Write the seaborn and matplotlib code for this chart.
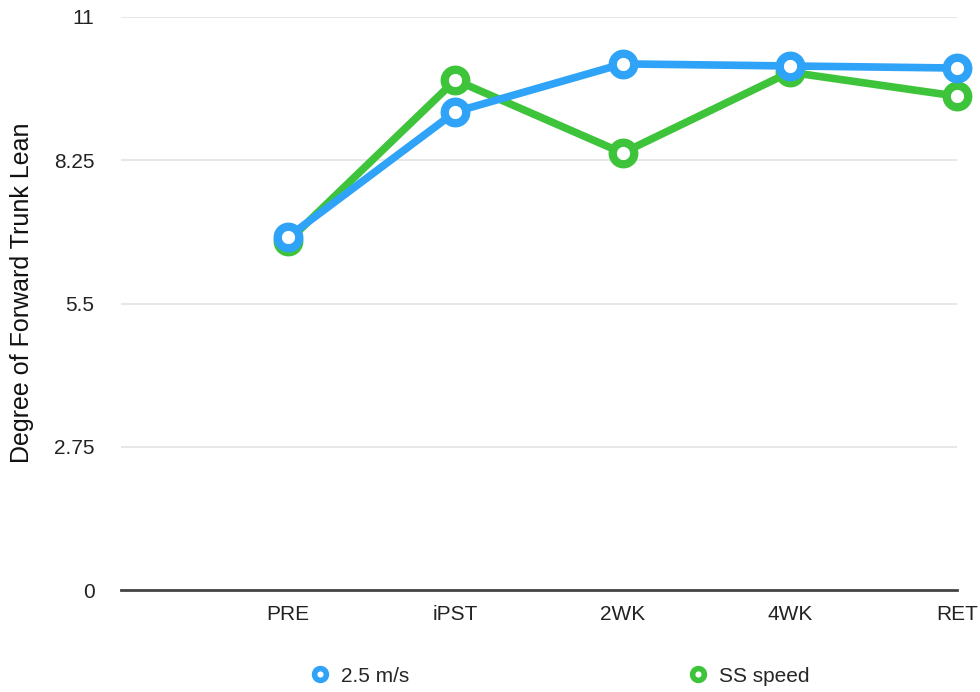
import matplotlib
matplotlib.use('Agg')
import matplotlib.pyplot as plt
from matplotlib.lines import Line2D
import seaborn as sns
import pandas as pd

# Values
phases = ['PRE', 'iPST', '2WK', '4WK', 'RET']
speed_25 = [6.78, 9.18, 10.10, 10.06, 10.02]
ss_speed = [6.70, 9.79, 8.39, 9.94, 9.48]
series_names = ['2.5 m/s', 'SS speed']
y_ticks = [0, 2.75, 5.5, 8.25, 11]
y_tick_labels = ['0', '2.75', '5.5', '8.25', '11']

BLUE = '#2ea3f7'
GREEN = '#3ec43b'

df = pd.DataFrame({
    'Phase': phases * 2,
    'Lean': speed_25 + ss_speed,
    'Series': [series_names[0]] * len(phases) + [series_names[1]] * len(phases),
})

sns.set_style('white')
plt.rcParams['font.family'] = ['Liberation Sans', 'DejaVu Sans']

fig = plt.figure(figsize=(9.8, 6.92), dpi=100)
ax = fig.add_axes([121 / 980, 102 / 692, 836 / 980, 573 / 692])

# green first so blue sits on top
for name, color, z in [(series_names[1], GREEN, 3), (series_names[0], BLUE, 4)]:
    sub = df[df['Series'] == name]
    sns.lineplot(data=sub, x='Phase', y='Lean', ax=ax, color=color, lw=5.5,
                 marker='o', markersize=15.5, markeredgewidth=6,
                 markerfacecolor='white', markeredgecolor=color,
                 sort=False, zorder=z, clip_on=False, legend=False)

ax.set_xlim(-1, 4)
ax.set_ylim(0, 11)
ax.set_yticks(y_ticks)
ax.set_yticklabels(y_tick_labels)
ax.yaxis.grid(True, color='#e3e3e3', lw=1.2)
ax.set_axisbelow(True)
for s in ['top', 'right', 'left']:
    ax.spines[s].set_visible(False)
ax.spines['bottom'].set_color('#444444')
ax.spines['bottom'].set_linewidth(2)
ax.tick_params(axis='both', length=0, labelsize=15, colors='#222222')
ax.tick_params(axis='y', pad=19)
ax.tick_params(axis='x', pad=11)
ax.set_xlabel('')
ax.set_ylabel('Degree of Forward Trunk Lean', fontsize=18, color='#111111')
ax.yaxis.set_label_coords(-87 / 836, 0.518)

# two legend entries placed like the reference
for name, color, x0 in [(series_names[0], BLUE, 310), (series_names[1], GREEN, 688)]:
    h = Line2D([], [], ls='none', marker='o', ms=8.5, mew=4, mfc='white', mec=color)
    fig.legend([h], [name], loc='center left', bbox_to_anchor=(x0 / 980, 16 / 692),
               frameon=False, fontsize=15, handlelength=1.0, handletextpad=0.5,
               borderpad=0, borderaxespad=0)

fig.savefig('out.png', dpi=100)
